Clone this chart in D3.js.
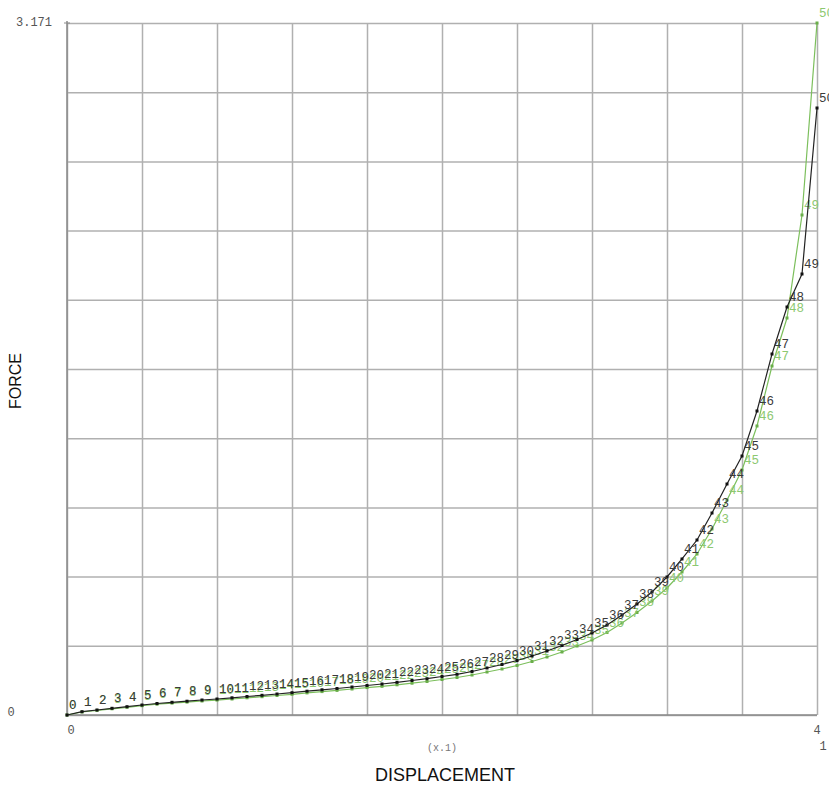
<!DOCTYPE html>
<html><head><meta charset="utf-8">
<script src="https://cdn.jsdelivr.net/npm/d3@7"></script>
<style>body{margin:0;background:#fff;} svg{display:block;}</style>
</head><body>
<svg id="chart" width="829" height="787"></svg>
<script>
const steps = d3.range(0, 51);
const displacement = [0,0.008,0.016,0.024,0.032,0.04,0.048,0.056,0.064,0.072,0.08,0.088,0.096,0.104,0.112,0.12,0.128,0.136,0.144,0.152,0.16,0.168,0.176,0.184,0.192,0.2,0.208,0.216,0.224,0.232,0.24,0.248,0.256,0.264,0.272,0.28,0.288,0.296,0.304,0.312,0.32,0.328,0.336,0.344,0.352,0.36,0.368,0.376,0.384,0.392,0.4];
const forceBlack = [0,0.0151,0.0229,0.0307,0.0380,0.0458,0.0527,0.0582,0.0632,0.0687,0.0733,0.0788,0.0848,0.0903,0.0962,0.1022,0.1091,0.1155,0.1214,0.1283,0.1352,0.1421,0.1498,0.1581,0.1663,0.1764,0.1865,0.1993,0.2154,0.2314,0.2497,0.2704,0.2933,0.3185,0.3460,0.3758,0.4124,0.4582,0.5086,0.5636,0.6324,0.7149,0.8019,0.9256,1.0585,1.1868,1.3930,1.6542,1.8696,2.0208,2.7815];
const forceGreen = [0,0.0137,0.0211,0.0284,0.0353,0.0426,0.0495,0.0545,0.0591,0.0642,0.0683,0.0733,0.0788,0.0839,0.0894,0.0949,0.1013,0.1072,0.1127,0.1191,0.1256,0.1315,0.1384,0.1457,0.1535,0.1627,0.1718,0.1833,0.1970,0.2108,0.2268,0.2452,0.2658,0.2887,0.3162,0.3437,0.3780,0.4216,0.4697,0.5224,0.5820,0.6553,0.7378,0.8523,0.9852,1.1227,1.3243,1.5993,1.8192,2.2912,3.171];
const xTickLabels = ["0","4"];
const yTickLabels = ["0","3.171"];
const xMultiplier = "(x.1)";
const xTitle = "DISPLACEMENT";
const yTitle = "FORCE";

const svg = d3.select("#chart");
const L = 67, R = 817, T = 23, B = 715;
const x = d3.scaleLinear().domain([0, 0.4]).range([L, R]);
const y = d3.scaleLinear().domain([0, 3.171]).range([B, T]);

// grid
const gx = svg.append("g").attr("transform", `translate(0,${B})`)
  .call(d3.axisBottom(x).tickValues(d3.range(0, 11).map(i => i * 0.04)).tickSize(-(B - T)).tickFormat(""));
const gy = svg.append("g").attr("transform", `translate(${L},0)`)
  .call(d3.axisLeft(y).tickValues(d3.range(0, 11).map(i => i * 3.171 / 10)).tickSize(-(R - L)).tickFormat(""));
[gx, gy].forEach(g => {
  g.select(".domain").remove();
  g.selectAll("line").attr("stroke", "#b0b0b0").attr("stroke-width", 1.5);
});
// axis frame lines
svg.append("line").attr("x1", L).attr("x2", L).attr("y1", T - 2).attr("y2", B + 2).attr("stroke", "#8a8a8a").attr("stroke-width", 1.5);
svg.append("line").attr("x1", L).attr("x2", R).attr("y1", B).attr("y2", B).attr("stroke", "#8a8a8a").attr("stroke-width", 1.5);
svg.append("line").attr("x1", L - 3).attr("x2", L + 3).attr("y1", T).attr("y2", T).attr("stroke", "#8a8a8a");

// tick labels
const mono = "'Liberation Mono', 'DejaVu Sans Mono', monospace";
const yLab = [0, 3.171];
svg.selectAll(".ylab").data(yLab).enter().append("text")
  .attr("x", (d, i) => i === 0 ? 11 : 52).attr("y", d => y(d) + (d === 0 ? 1 : 3))
  .attr("text-anchor", (d, i) => i === 0 ? "middle" : "end")
  .attr("font-family", mono).attr("font-size", 12).attr("fill", "#555")
  .text((d, i) => yTickLabels[i]);
const xLab = [0, 0.4];
svg.selectAll(".xlab").data(xLab).enter().append("text")
  .attr("x", d => x(d) + (d === 0 ? 4 : 0)).attr("y", B + 19)
  .attr("text-anchor", "middle")
  .attr("font-family", mono).attr("font-size", 12).attr("fill", "#555")
  .text((d, i) => xTickLabels[i]);
svg.append("text").attr("x", R + 6).attr("y", B + 35).attr("text-anchor", "middle")
  .attr("font-family", mono).attr("font-size", 12).attr("fill", "#555").text("1");
svg.append("text").attr("x", (L + R) / 2).attr("y", B + 36).attr("text-anchor", "middle")
  .attr("font-family", mono).attr("font-size", 10).attr("fill", "#777").text(xMultiplier);

// titles
svg.append("text").attr("x", 445).attr("y", 781).attr("text-anchor", "middle")
  .attr("font-family", "'Liberation Sans', Arial, sans-serif").attr("font-size", 18).attr("fill", "#111").text(xTitle);
svg.append("text").attr("transform", "translate(21,381) rotate(-90)").attr("text-anchor", "middle")
  .attr("font-family", "'Liberation Sans', Arial, sans-serif").attr("font-size", 16).attr("fill", "#111").text(yTitle);

function drawSeries(vals, color, dotColor, labelColor) {
  const pts = steps.map(i => ({ i, xv: displacement[i], yv: vals[i] }));
  svg.append("path").datum(pts)
    .attr("fill", "none").attr("stroke", color).attr("stroke-width", 1.2)
    .attr("d", d3.line().x(d => x(d.xv)).y(d => y(d.yv)));
  svg.append("g").selectAll("rect").data(pts).enter().append("rect")
    .attr("x", d => x(d.xv) - 1.5).attr("y", d => y(d.yv) - 1.5)
    .attr("width", 3).attr("height", 3).attr("fill", dotColor);
  svg.append("g").selectAll("text").data(pts).enter().append("text")
    .attr("x", d => x(d.xv) + 2).attr("y", d => y(d.yv) - 6)
    .attr("font-family", mono).attr("font-size", 12.5).attr("fill", labelColor)
    .text(d => d.i);
}
drawSeries(forceGreen, "#7cbf5c", "#6aae4a", "#8cc870");
drawSeries(forceBlack, "#222", "#111", "#3a3a3a");
</script>
</body></html>
